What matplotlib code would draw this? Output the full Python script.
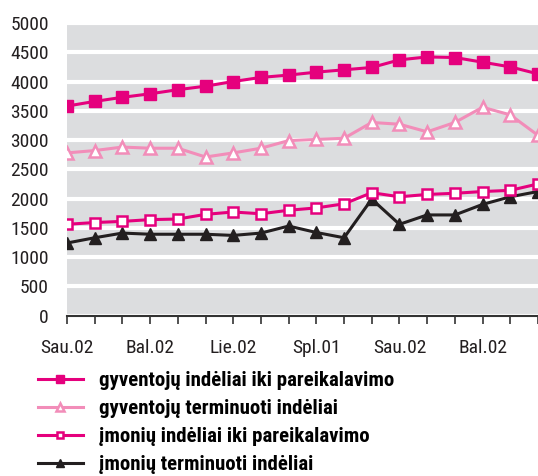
import matplotlib.pyplot as plt

plt.rcParams['font.family'] = ['Roboto Condensed', 'DejaVu Sans']

# month positions 0..17, labels every third month
tick_pos = [0, 3, 6, 9, 12, 15]
tick_labels = ['Sau.02', 'Bal.02', 'Lie.02', 'Spl.01', 'Sau.02', 'Bal.02']

gyv_iki = [3580, 3660, 3730, 3790, 3860, 3920, 4000, 4070, 4110, 4160, 4200,
           4240, 4370, 4420, 4410, 4330, 4250, 4130]
gyv_term = [2780, 2820, 2880, 2860, 2860, 2710, 2780, 2860, 2990, 3010, 3030,
            3300, 3270, 3140, 3300, 3560, 3430, 3080]
imon_iki = [1560, 1590, 1610, 1640, 1650, 1730, 1770, 1740, 1800, 1840, 1910,
            2100, 2030, 2070, 2090, 2120, 2140, 2250]
imon_term = [1240, 1330, 1410, 1390, 1390, 1390, 1370, 1410, 1530, 1420, 1330,
             1990, 1560, 1720, 1720, 1900, 2030, 2120]

labels = ['gyventojų indėliai iki pareikalavimo',
          'gyventojų terminuoti indėliai',
          'įmonių indėliai iki pareikalavimo',
          'įmonių terminuoti indėliai']

magenta = '#E5007D'
pink = '#F28DB9'
black = '#231F20'

fig = plt.figure(figsize=(5.38, 4.76), dpi=100)
ax = fig.add_axes([0.1245, 0.337, 0.8755, 0.6147])
ax.set_facecolor('#DCDDDF')

x = list(range(len(gyv_iki)))
ax.plot(x, gyv_iki, color=magenta, lw=2.2, marker='s', ms=8,
        mfc=magenta, mec=magenta, label=labels[0], zorder=5)
ax.plot(x, gyv_term, color=pink, lw=2.2, marker='^', ms=8,
        mfc='white', mec=pink, mew=1.8, label=labels[1], zorder=4)
ax.plot(x, imon_iki, color=magenta, lw=2.2, marker='s', ms=7,
        mfc='white', mec=magenta, mew=1.8, label=labels[2], zorder=5)
ax.plot(x, imon_term, color=black, lw=2.2, marker='^', ms=8,
        mfc=black, mec=black, label=labels[3], zorder=4)

ax.set_xlim(0, 17)
ax.set_ylim(0, 5000)
ax.set_yticks(range(0, 5001, 500))
ax.yaxis.grid(True, color='white', lw=3)
ax.set_axisbelow(True)
ax.tick_params(axis='y', length=0, pad=13, labelsize=14, labelcolor='#231F20')

ax.xaxis.remove_overlapping_locs = False
ax.set_xticks(x)
ax.set_xticklabels(['' for _ in x])
ax.set_xticks(tick_pos, minor=True)
ax.set_xticklabels(tick_labels, minor=True)
ax.tick_params(axis='x', which='major', length=6, width=1.2, color='#333333', direction='out')
ax.tick_params(axis='x', which='minor', length=0, pad=17, labelsize=14, labelcolor='#231F20')

for s in ['top', 'right', 'left']:
    ax.spines[s].set_visible(False)
ax.spines['bottom'].set_color('#333333')
ax.spines['bottom'].set_linewidth(1.5)

fig.legend(loc='upper left', bbox_to_anchor=(0.0706, 0.221), frameon=False,
           borderaxespad=0, borderpad=0,
           handlelength=2.15, handletextpad=0.8, labelspacing=0.44,
           prop={'family': ['Roboto Condensed', 'DejaVu Sans'], 'weight': 'bold', 'size': 15},
           markerscale=0.7)

fig.savefig('out.png', dpi=100)
